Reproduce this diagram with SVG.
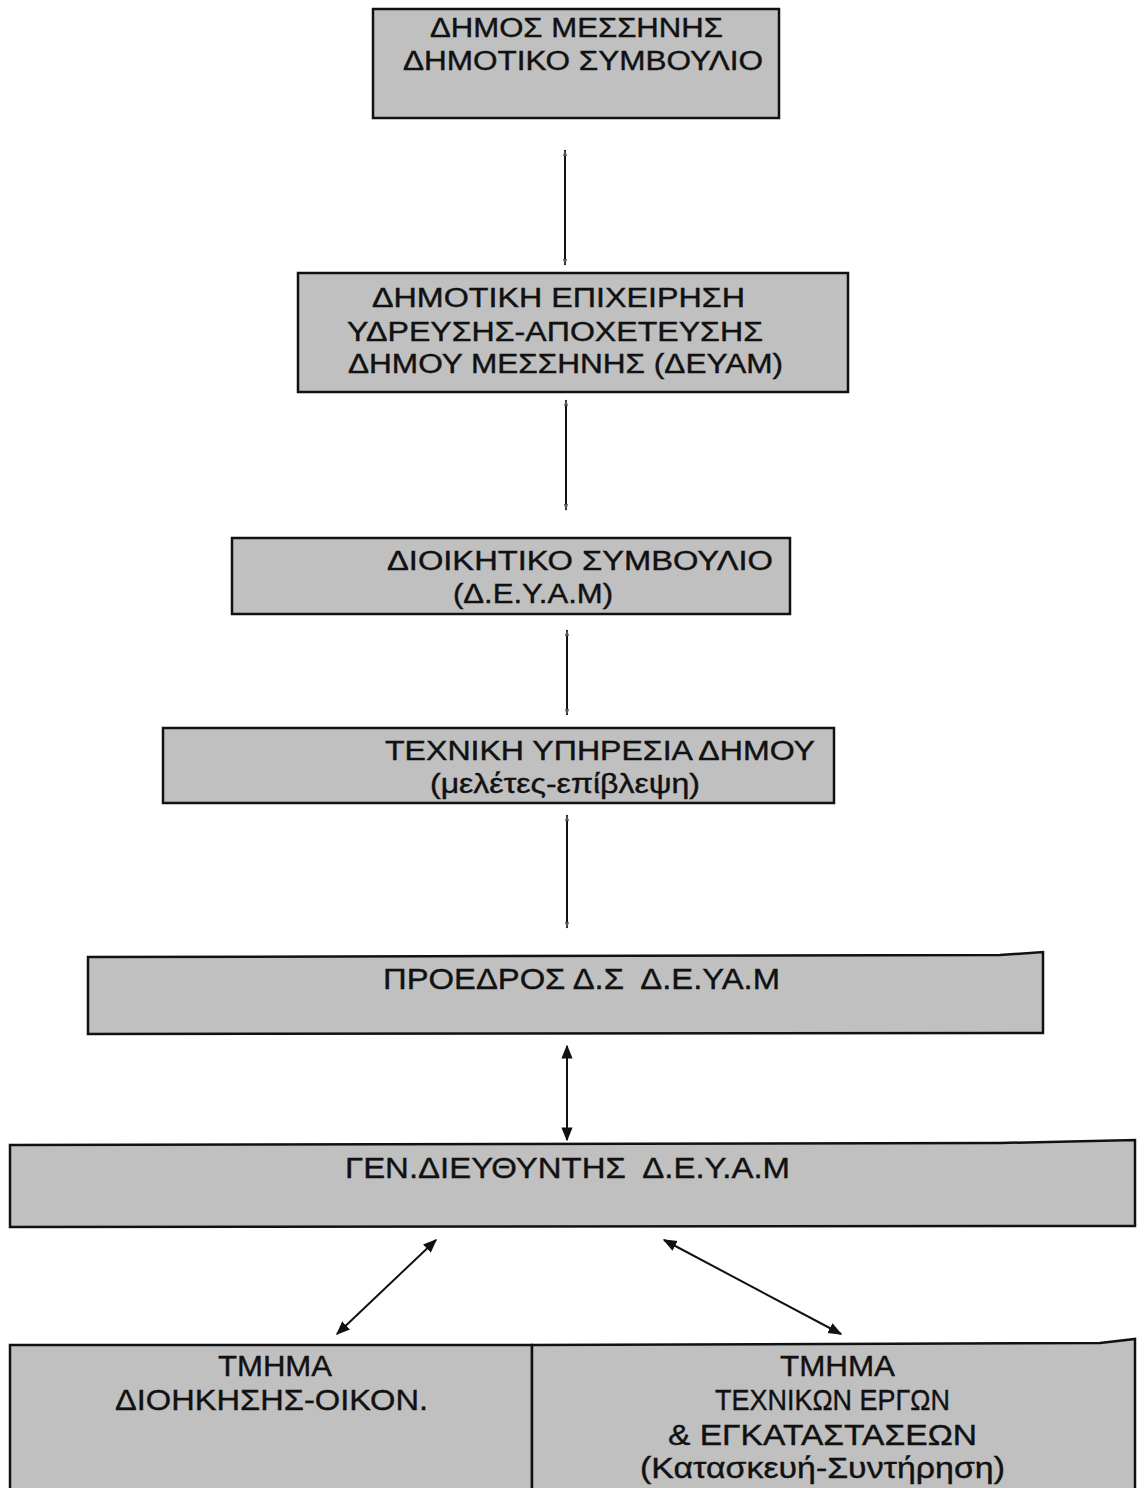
<svg xmlns="http://www.w3.org/2000/svg" width="1147" height="1488" viewBox="0 0 1147 1488">
<style>
.box{fill:#c0c0c0;stroke:#111;stroke-width:2.5}
.t{font-family:"Liberation Sans",Arial,sans-serif;fill:#111;stroke:#111;stroke-width:0.4;font-size:27px}
.n{font-family:"Liberation Sans",Arial,sans-serif;fill:#111;stroke:#111;stroke-width:0.4;font-size:30px}
.c{stroke:#111;stroke-width:2;fill:none}
</style>
<defs>
<marker id="sm" viewBox="0 0 10 10" refX="9" refY="5" markerWidth="7" markerHeight="7" orient="auto-start-reverse" markerUnits="userSpaceOnUse">
<path d="M0,2 L10,5 L0,8 z" fill="#555"/>
</marker>
<marker id="ar" viewBox="0 0 10 10" refX="9" refY="5" markerWidth="14" markerHeight="14" orient="auto-start-reverse" markerUnits="userSpaceOnUse">
<path d="M0,1 L10,5 L0,9 z" fill="#111"/>
</marker>
</defs>

<g id="connectors">
<line class="c" x1="565" y1="150" x2="565" y2="265" marker-start="url(#sm)" marker-end="url(#sm)"/>
<line class="c" x1="566" y1="400" x2="566" y2="510" marker-start="url(#sm)" marker-end="url(#sm)"/>
<line class="c" x1="567" y1="630" x2="567" y2="715" marker-start="url(#sm)" marker-end="url(#sm)"/>
<line class="c" x1="567" y1="815" x2="567" y2="928" marker-start="url(#sm)" marker-end="url(#sm)"/>
<line class="c" x1="567" y1="1046" x2="567" y2="1140" marker-start="url(#ar)" marker-end="url(#ar)"/>
<line class="c" x1="436" y1="1240" x2="337" y2="1334" marker-start="url(#ar)" marker-end="url(#ar)"/>
<line class="c" x1="664" y1="1240" x2="841" y2="1334" marker-start="url(#ar)" marker-end="url(#ar)"/>
</g>

<g id="n1">
<rect class="box" x="373" y="9" width="406" height="109"/>
<text class="t" x="430" y="37" font-size="26" textLength="293" lengthAdjust="spacingAndGlyphs">ΔΗΜΟΣ ΜΕΣΣΗΝΗΣ</text>
<text class="t" x="403" y="70" font-size="26" textLength="360" lengthAdjust="spacingAndGlyphs">ΔΗΜΟΤΙΚΟ ΣΥΜΒΟΥΛΙΟ</text>
</g>

<g id="n2">
<rect class="box" x="298" y="273" width="550" height="119"/>
<text class="t" x="372" y="307" textLength="373" lengthAdjust="spacingAndGlyphs">ΔΗΜΟΤΙΚΗ ΕΠΙΧΕΙΡΗΣΗ</text>
<text class="t" x="347" y="341" textLength="416" lengthAdjust="spacingAndGlyphs">ΥΔΡΕΥΣΗΣ-ΑΠΟΧΕΤΕΥΣΗΣ</text>
<text class="t" x="348" y="373" textLength="435" lengthAdjust="spacingAndGlyphs">ΔΗΜΟΥ ΜΕΣΣΗΝΗΣ (ΔΕΥΑΜ)</text>
</g>

<g id="n3">
<rect class="box" x="232" y="538" width="558" height="76"/>
<text class="t" x="387" y="570" textLength="386" lengthAdjust="spacingAndGlyphs">ΔΙΟΙΚΗΤΙΚΟ ΣΥΜΒΟΥΛΙΟ</text>
<text class="t" x="453" y="603" textLength="160" lengthAdjust="spacingAndGlyphs">(Δ.Ε.Υ.Α.Μ)</text>
</g>

<g id="n4">
<rect class="box" x="163" y="728" width="671" height="75"/>
<text class="t" x="385" y="760" textLength="430" lengthAdjust="spacingAndGlyphs">ΤΕΧΝΙΚΗ ΥΠΗΡΕΣΙΑ ΔΗΜΟΥ</text>
<text class="t" x="430" y="793" textLength="270" lengthAdjust="spacingAndGlyphs">(μελέτες-επίβλεψη)</text>
</g>

<g id="n5">
<path class="box" d="M88,957 L1000,955 L1043,952 L1043,1033 L88,1034 Z"/>
<text class="n" x="383" y="989" textLength="397" lengthAdjust="spacingAndGlyphs" xml:space="preserve">ΠΡΟΕΔΡΟΣ Δ.Σ  Δ.Ε.ΥΑ.Μ</text>
</g>

<g id="n6">
<path class="box" d="M10,1145 L1000,1143 L1135,1140 L1135,1226 L10,1227 Z"/>
<text class="n" x="345" y="1178" textLength="445" lengthAdjust="spacingAndGlyphs" xml:space="preserve">ΓΕΝ.ΔΙΕΥΘΥΝΤΗΣ  Δ.Ε.Υ.Α.Μ</text>
</g>

<g id="n7">
<rect class="box" x="10" y="1345" width="522" height="150"/>
<text class="n" x="218" y="1376" textLength="114" lengthAdjust="spacingAndGlyphs">ΤΜΗΜΑ</text>
<text class="n" x="115" y="1410" textLength="313" lengthAdjust="spacingAndGlyphs">ΔΙΟΗΚΗΣΗΣ-ΟΙΚΟΝ.</text>
</g>

<g id="n8">
<path class="box" d="M532,1345 L1100,1343 L1135,1339 L1135,1495 L532,1495 Z"/>
<text class="n" x="780" y="1376" textLength="115" lengthAdjust="spacingAndGlyphs">ΤΜΗΜΑ</text>
<text class="n" x="715" y="1410" textLength="235" lengthAdjust="spacingAndGlyphs">ΤΕΧΝΙΚΩΝ ΕΡΓΩΝ</text>
<text class="n" x="668" y="1445" textLength="309" lengthAdjust="spacingAndGlyphs">&amp; ΕΓΚΑΤΑΣΤΑΣΕΩΝ</text>
<text class="n" x="640" y="1478" textLength="365" lengthAdjust="spacingAndGlyphs">(Κατασκευή-Συντήρηση)</text>
</g>
</svg>
